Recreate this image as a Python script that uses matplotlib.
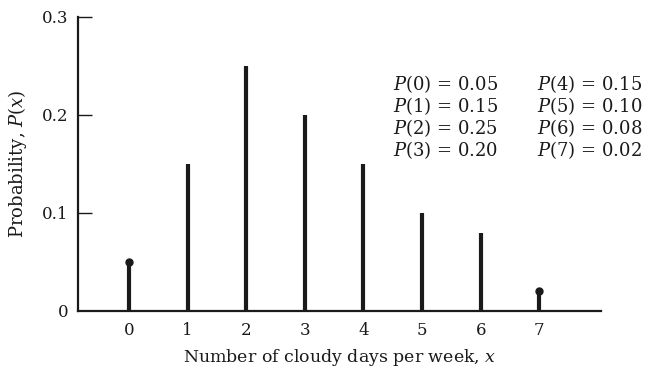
import numpy as np
import matplotlib.pyplot as plt

days = [0, 1, 2, 3, 4, 5, 6, 7]
probs = [0.05, 0.15, 0.25, 0.20, 0.15, 0.10, 0.08, 0.02]
dot_days = [0, 7]
y_ticks = [0, 0.1, 0.2, 0.3]
y_tick_labels = ["0", "0.1", "0.2", "0.3"]

plt.rcParams['font.family'] = ['DejaVu Serif']
plt.rcParams['mathtext.fontset'] = 'dejavuserif'

ink = '#1a1a1a'
fig = plt.figure(figsize=(6.46, 3.68), dpi=100)
ax = fig.add_axes([0.121, 0.155, 0.809, 0.799])

ax.vlines(days, 0, probs, color=ink, linewidth=3)
dot_p = [probs[d] for d in dot_days]
ax.plot(dot_days, dot_p, 'o', color=ink, markersize=5)

ax.set_xlim(-0.87, 8.05)
ax.set_ylim(0, 0.3)
ax.spines['top'].set_visible(False)
ax.spines['right'].set_visible(False)
for s in ['left', 'bottom']:
    ax.spines[s].set_linewidth(1.6)
    ax.spines[s].set_color(ink)

ax.set_xticks(days)
ax.set_xticklabels([str(d) for d in days])
ax.tick_params(axis='x', length=0, pad=8, labelsize=12, colors=ink)
ax.set_yticks(y_ticks)
ax.set_yticklabels(y_tick_labels)
ax.tick_params(axis='y', direction='in', length=10, width=1.0, pad=7,
               labelsize=12, colors=ink)
ax.yaxis.get_major_ticks()[0].tick1line.set_visible(False)

ax.set_xlabel("Number of cloudy days per week, $x$", fontsize=12.5,
              labelpad=6, color=ink)
ax.set_ylabel("Probability, $P(x)$", fontsize=13, labelpad=9, color=ink)

# text block with the values, two columns of four
col_x = [4.5, 6.96]
row_y = [0.2315, 0.209, 0.1865, 0.164]
for i, (d, p) in enumerate(zip(days, probs)):
    ax.text(col_x[i // 4], row_y[i % 4], f"$P$({d}) = {p:.2f}",
            fontsize=13, va='center', ha='left', color=ink)

fig.savefig("out.png", dpi=100)
